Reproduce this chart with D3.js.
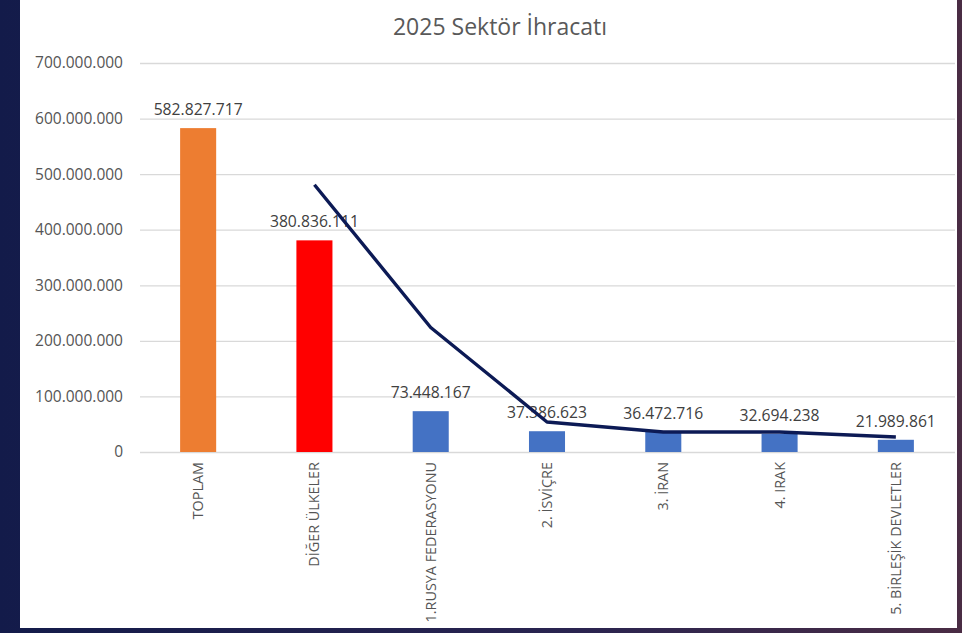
<!DOCTYPE html>
<html lang="tr">
<head>
<meta charset="UTF-8">
<title>2025 Sektör İhracatı</title>
<script src="https://cdn.jsdelivr.net/npm/d3@7"></script>
<style>
  html, body { margin: 0; padding: 0; background: #141c48; }
  svg { display: block; }
  text { font-family: 'Open Sans', sans-serif; }
</style>
</head>
<body>
<div id="chart"></div>
<script>
// chart data
var categories = ['TOPLAM', 'DİĞER ÜLKELER', '1.RUSYA FEDERASYONU', '2. İSVİÇRE', '3. İRAN', '4. IRAK', '5. BİRLEŞİK DEVLETLER'];
var barValues = [582827717, 380836111, 73448167, 37386623, 36472716, 32694238, 21989861];
var barColors = ['#ed7d31', '#ff0000', '#4472c4', '#4472c4', '#4472c4', '#4472c4', '#4472c4'];
// trend line
var lineValues = [null, 481000000, 224000000, 54000000, 36000000, 36000000, 27000000];
var yTicks = [0, 100000000, 200000000, 300000000, 400000000, 500000000, 600000000, 700000000];

var width = 962, height = 633;

var svg = d3.select('#chart').append('svg')
    .attr('width', width)
    .attr('height', height);

// dark slide background around the chart
var defs = svg.append('defs');
var grad = defs.append('linearGradient').attr('id', 'bg')
    .attr('x1', '0').attr('y1', '0').attr('x2', '1').attr('y2', '0');
grad.append('stop').attr('offset', '0%').attr('stop-color', '#131b4a');
grad.append('stop').attr('offset', '60%').attr('stop-color', '#2a2450');
grad.append('stop').attr('offset', '100%').attr('stop-color', '#4a2c44');
svg.append('rect').attr('width', width).attr('height', height).attr('fill', 'url(#bg)');

// white chart area
svg.append('rect')
    .attr('x', 20).attr('y', 0)
    .attr('width', 937).attr('height', 628)
    .attr('fill', '#ffffff');

var fmt = d3.formatLocale({ decimal: ',', thousands: '.', grouping: [3], currency: ['', ''] }).format(',d');

var x = d3.scaleBand()
    .domain(categories)
    .range([140, 954])
    .paddingInner(0.69)
    .paddingOuter(0.345);

var y = d3.scaleLinear()
    .domain([0, 700000000])
    .range([452, 63]);

// title
svg.append('text')
    .attr('x', 500)
    .attr('y', 35)
    .attr('text-anchor', 'middle')
    .attr('fill', '#595959')
    .style('font-size', '23px')
    .text('2025 Sektör İhracatı');

// grid + y labels
var yAxis = svg.append('g')
    .attr('transform', 'translate(140,0)')
    .call(d3.axisLeft(y).tickValues(yTicks).tickFormat(fmt).tickSize(-815).tickPadding(17));
yAxis.select('.domain').remove();
yAxis.selectAll('line').attr('stroke', '#d9d9d9').attr('stroke-width', 1.3);
yAxis.selectAll('text')
    .attr('fill', '#555555')
    .style('font-size', '15.5px');

// bars
svg.append('g').selectAll('rect')
    .data(barValues)
    .join('rect')
    .attr('x', (d, i) => x(categories[i]))
    .attr('y', d => y(d))
    .attr('width', x.bandwidth())
    .attr('height', d => y(0) - y(d))
    .attr('fill', (d, i) => barColors[i]);

// value labels
svg.append('g').selectAll('text')
    .data(barValues)
    .join('text')
    .attr('x', (d, i) => x(categories[i]) + x.bandwidth() / 2)
    .attr('y', d => y(d) - 13)
    .attr('text-anchor', 'middle')
    .attr('fill', '#404040')
    .style('font-size', '15.7px')
    .text(d => fmt(d));

// x labels
var xAxis = svg.append('g')
    .attr('transform', 'translate(0,452)')
    .call(d3.axisBottom(x).tickSize(0).tickPadding(0));
xAxis.select('.domain').remove();
xAxis.selectAll('text')
    .attr('transform', 'rotate(-90)')
    .attr('text-anchor', 'end')
    .attr('x', -10)
    .attr('y', 0)
    .attr('dy', '0.35em')
    .attr('fill', '#555555')
    .style('font-size', '14.4px');

// trend line
var line = d3.line()
    .defined(d => d != null)
    .x((d, i) => x(categories[i]) + x.bandwidth() / 2)
    .y(d => y(d));

svg.append('path')
    .datum(lineValues)
    .attr('d', line)
    .attr('fill', 'none')
    .attr('stroke', '#0c1a55')
    .attr('stroke-width', 3.4)
    .attr('stroke-linejoin', 'round');
</script>
</body>
</html>
